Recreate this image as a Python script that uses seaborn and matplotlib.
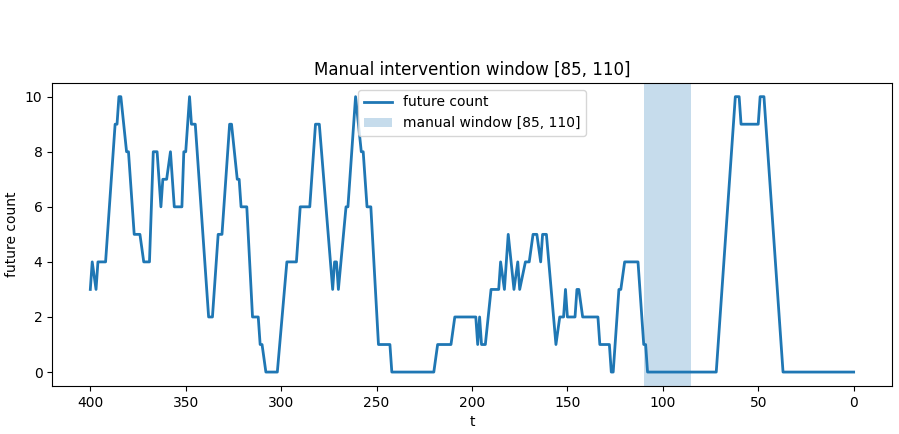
import matplotlib
matplotlib.use("Agg")
import matplotlib.pyplot as plt
import seaborn as sns
import pandas as pd

# vertices of the "future count" series (t, value)
t_values = [400, 399, 397, 396, 392, 387, 386, 385, 384, 381, 380, 377, 374, 372, 369,
            367, 365, 363, 362, 360, 358, 356, 352, 351, 350, 348, 347, 345, 338, 336,
            333, 331, 327, 326, 323, 322, 321, 318, 315, 312, 311, 310, 308, 302, 297,
            292, 290, 285, 282, 280, 273, 272, 271, 270, 266, 265, 261, 258, 257, 255,
            253, 249, 243, 242, 220, 218, 211, 209, 198, 197, 196, 195, 193, 190, 186,
            185, 183, 181, 178, 176, 175, 172, 170, 168, 166, 164, 163, 161, 156, 154,
            152, 151, 150, 146, 145, 144, 142, 134, 133, 128, 127, 126, 123, 122, 120,
            113, 110, 109, 108, 72, 62, 60, 59, 50, 49, 47, 37, 0]
counts = [3, 4, 3, 4, 4, 9, 9, 10, 10, 8, 8, 5, 5, 4, 4,
          8, 8, 6, 7, 7, 8, 6, 6, 8, 8, 10, 9, 9, 2, 2,
          5, 5, 9, 9, 7, 7, 6, 6, 2, 2, 1, 1, 0, 0, 4,
          4, 6, 6, 9, 9, 3, 4, 4, 3, 6, 6, 10, 8, 8, 6,
          6, 1, 1, 0, 0, 1, 1, 2, 2, 1, 2, 1, 1, 3, 3,
          4, 3, 5, 3, 4, 3, 4, 4, 5, 5, 4, 5, 5, 1, 2,
          2, 3, 2, 2, 3, 3, 2, 2, 1, 1, 0, 0, 3, 3, 4,
          4, 1, 1, 0, 0, 10, 10, 9, 9, 10, 10, 0, 0]

window = [85, 110]
title = "Manual intervention window [85, 110]"
line_label = "future count"
span_label = "manual window [85, 110]"

df = pd.DataFrame({"t": t_values, "future count": counts})

fig = plt.figure(figsize=(8.99, 4.34), dpi=100)
ax = fig.add_axes([0.058, 0.111, 0.934, 0.698])

sns.lineplot(data=df, x="t", y="future count", ax=ax, color="#1f77b4",
             linewidth=2, label=line_label, estimator=None, sort=False)
ax.axvspan(window[0], window[1], color="#1f77b4", alpha=0.25, linewidth=0,
           label=span_label)

ax.set_xlim(420, -20)
ax.set_ylim(-0.5, 10.5)
ax.set_xticks([400, 350, 300, 250, 200, 150, 100, 50, 0])
ax.set_yticks([0, 2, 4, 6, 8, 10])
ax.set_xlabel("t")
ax.set_ylabel("future count")
ax.set_title(title)
ax.legend(loc="upper center")

fig.savefig("out.png", dpi=100)
